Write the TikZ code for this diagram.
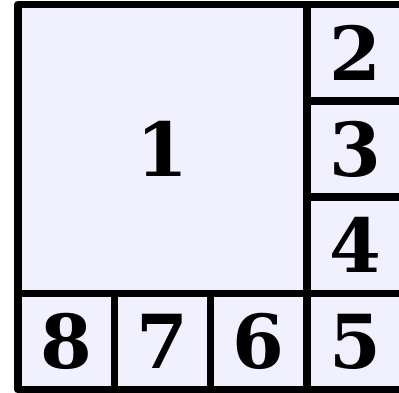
\documentclass[tikz,border=0pt]{standalone}
\usepackage{fontspec}
\setmainfont{DejaVu Serif}
\usetikzlibrary{positioning}

\begin{document}
\begin{tikzpicture}[
    % --- cell styles ---
    cell/.style={
        draw=black, fill=blue!6, line width=2.2pt, line join=round,
        minimum size=1cm, inner sep=0pt, outer sep=0pt,
        font=\fontsize{22}{22}\selectfont\bfseries},
    bigcell/.style={cell, minimum size=3cm},
]
\useasboundingbox (-0.187,-0.031) rectangle (3.956,4.047);

% ===== BIG CELL =====
\node[bigcell] (c1) at (1.5,2.5) {1};

% ===== RIGHT COLUMN =====
\node[cell] (c2) at (3.5,3.5) {2};
\node[cell, below=0cm of c2] (c3) {3};
\node[cell, below=0cm of c3] (c4) {4};
\node[cell, below=0cm of c4] (c5) {5};

% ===== BOTTOM ROW =====
\node[cell, left=0cm of c5] (c6) {6};
\node[cell, left=0cm of c6] (c7) {7};
\node[cell, left=0cm of c7] (c8) {8};

\end{tikzpicture}
\end{document}
